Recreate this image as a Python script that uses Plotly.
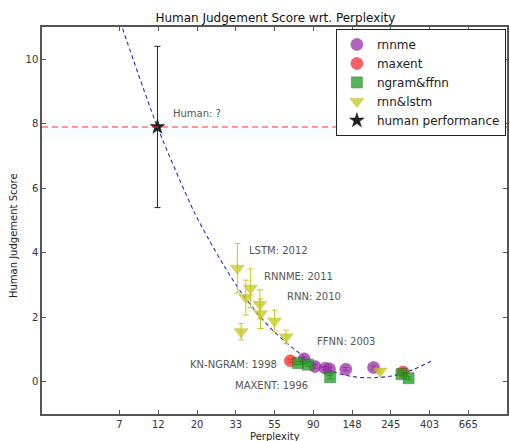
import numpy as np
import plotly.graph_objects as go

# ---------------- data ----------------
# x values are perplexities (axis drawn on a log scale, ticks at e^2 ... e^6.5)
rnnme_ppl = [80, 92, 105, 111, 137, 196]
rnnme_score = [0.71, 0.47, 0.42, 0.40, 0.39, 0.44]
rnnme_err = [0.05, 0.05, 0.05, 0.05, 0.05, 0.05]

maxent_ppl = [67, 287]
maxent_score = [0.65, 0.30]
maxent_err = [0.05, 0.05]

ngram_ppl = [74, 84, 112, 281, 308]
ngram_score = [0.58, 0.53, 0.14, 0.24, 0.11]
ngram_err = [0.05, 0.05, 0.05, 0.05, 0.05]

rnn_ppl = [33.8, 40.0, 37.7, 45.2, 45.6, 54.6, 35.5, 63.4, 213]
rnn_score = [3.52, 2.90, 2.61, 2.40, 2.11, 1.88, 1.55, 1.39, 0.33]
rnn_err = [0.77, 0.60, 0.54, 0.45, 0.46, 0.34, 0.25, 0.21, 0.05]

human_ppl = [12.06]
human_score = [7.9]
human_err = [2.5]

human_line = 7.9

# fitted trend
fit_ppl = [7.69, 12.06, 19.3, 23.3, 28.8, 35.5, 44.3, 54.6, 70.8, 90.9,
           122.7, 159.2, 204.4, 254.7, 327.0, 415.9]
fit_score = [10.95, 7.9, 5.28, 4.43, 3.55, 2.77, 2.09, 1.54, 1.0, 0.58,
             0.27, 0.14, 0.13, 0.19, 0.38, 0.65]

tick_ln = [2.0, 2.5, 3.0, 3.5, 4.0, 4.5, 5.0, 5.5, 6.0, 6.5]
tick_labels = ["7", "12", "20", "33", "55", "90", "148", "245", "403", "665"]

notes = ["Human: ?", "LSTM: 2012", "RNNME: 2011", "RNN: 2010", "FFNN: 2003",
         "KN-NGRAM: 1998", "MAXENT: 1996"]
notes_ppl = [14.4, 38.5, 46.5, 62.8, 91.8, 17.8, 32.1]
notes_score = [8.32, 4.06, 3.26, 2.65, 1.26, 0.52, -0.11]

# ---------------- figure ----------------
fig = go.Figure()

fig.add_trace(go.Scatter(
    x=fit_ppl, y=fit_score, mode="lines", showlegend=False,
    line=dict(color="#2b2bd0", width=1.1, dash="4px,3px", shape="spline",
              smoothing=0.8),
    hoverinfo="skip"))

def add_group(x, y, err, name, symbol, color, size, edge):
    fig.add_trace(go.Scatter(
        x=x, y=y, mode="markers", name=name,
        marker=dict(symbol=symbol, color=color, size=size, opacity=0.75,
                    line=dict(color=edge, width=0.6)),
        error_y=dict(type="data", array=err, visible=True, color=color,
                     thickness=1, width=3)))

add_group(rnnme_ppl, rnnme_score, rnnme_err, "rnnme", "circle", "#9a30a8", 12, "#7a1888")
add_group(maxent_ppl, maxent_score, maxent_err, "maxent", "circle", "#ff2a2a", 12, "#e01010")
add_group(ngram_ppl, ngram_score, ngram_err, "ngram&ffnn", "square", "#1f9a1f", 11, "#106010")
add_group(rnn_ppl, rnn_score, rnn_err, "rnn&lstm", "triangle-down", "#c8c81e", 12, "#b0b010")

fig.add_trace(go.Scatter(
    x=human_ppl, y=human_score, mode="markers", name="human performance",
    marker=dict(symbol="star", color="#222222", size=11,
                line=dict(color="#111111", width=0.5)),
    error_y=dict(type="data", array=human_err, visible=True, color="#222222",
                 thickness=1, width=3)))

# human line and faint band
fig.add_shape(type="rect", xref="paper", yref="y", x0=0, x1=1,
              y0=human_line - 0.3, y1=human_line, line=dict(width=0),
              fillcolor="rgba(190,225,245,0.14)", layer="below")
fig.add_shape(type="line", xref="paper", yref="y", x0=0, x1=1,
              y0=human_line, y1=human_line,
              line=dict(color="#ff3030", width=1.1, dash="6px,4px"))

for t, px, py in zip(notes, notes_ppl, notes_score):
    fig.add_annotation(x=np.log10(px), y=py, text=t, showarrow=False,
                       xanchor="left", yanchor="middle",
                       font=dict(size=10, color="#555555",
                                 family="DejaVu Sans"))

# axis labels
fig.add_annotation(xref="paper", yref="paper", x=-0.06, y=0.46,
                   text="Human Judgement Score", textangle=-90, showarrow=False,
                   xanchor="center", yanchor="middle",
                   font=dict(size=10, color="#222222", family="DejaVu Sans"))
fig.add_annotation(xref="paper", yref="paper", x=0.5, y=-0.059,
                   text="Perplexity", showarrow=False,
                   xanchor="center", yanchor="middle",
                   font=dict(size=10, color="#222222", family="DejaVu Sans"))

axis_common = dict(showline=True, linecolor="#555555", linewidth=1.5,
                   mirror="ticks", ticks="inside", ticklen=4,
                   tickcolor="#555555", showgrid=False, zeroline=False,
                   tickfont=dict(size=10, color="#333333",
                                 family="DejaVu Sans"))

fig.update_xaxes(type="log", range=[np.log10(np.e), np.log10(np.e ** 7)],
                 tickvals=list(np.exp(tick_ln)), ticktext=tick_labels,
                 **axis_common)
fig.update_yaxes(range=[-1, 11], tickvals=[0, 2, 4, 6, 8, 10], **axis_common)

fig.update_layout(
    width=510, height=441,
    margin=dict(l=42, r=1, t=27, b=27),
    paper_bgcolor="white", plot_bgcolor="white",
    font=dict(family="DejaVu Sans", color="#222222"),
    title=dict(text="Human Judgement Score wrt. Perplexity",
               x=0.54, xanchor="center", y=1 - 18 / 441, yanchor="middle",
               font=dict(size=12, color="#111111")),
    legend=dict(x=0.632, y=0.995, xanchor="left", yanchor="top",
                bgcolor="white", bordercolor="#222222", borderwidth=1,
                font=dict(size=12, color="#222222"), itemsizing="trace",
                tracegroupgap=0),
)

fig.write_html("out.html")
